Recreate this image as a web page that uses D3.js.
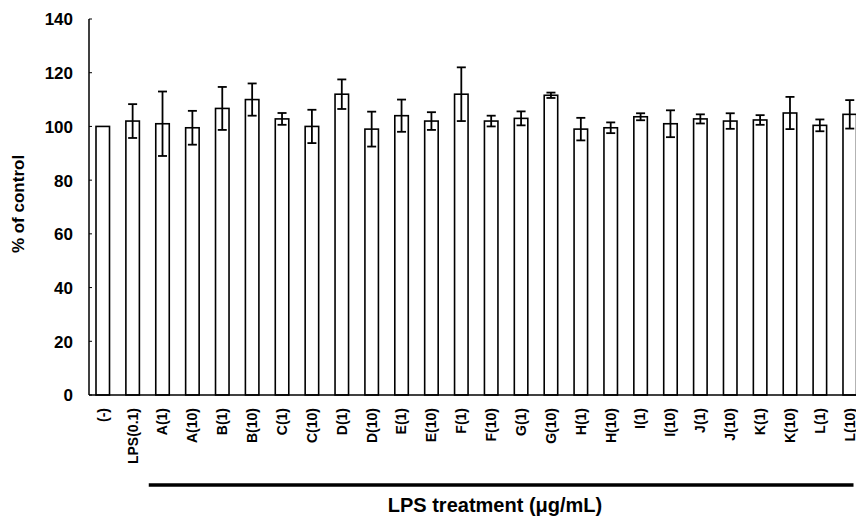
<!DOCTYPE html>
<meta charset="utf-8">
<style>
  body { margin: 0; background: #fff; }
  text { font-family: "Liberation Sans", Arial, sans-serif; font-weight: bold; fill: #000; }
</style>
<svg width="856" height="522"></svg>
<script src="https://d3js.org/d3.v7.min.js"></script>
<script>
var categories = ['(-)', 'LPS(0.1)', 'A(1)', 'A(10)', 'B(1)', 'B(10)', 'C(1)', 'C(10)', 'D(1)', 'D(10)',
  'E(1)', 'E(10)', 'F(1)', 'F(10)', 'G(1)', 'G(10)', 'H(1)', 'H(10)', 'I(1)', 'I(10)',
  'J(1)', 'J(10)', 'K(1)', 'K(10)', 'L(1)', 'L(10)'];
var means = [100, 102, 101, 99.5, 106.7, 110, 102.8, 100, 112, 99,
  104, 102, 112, 102, 103, 111.6, 99, 99.5, 103.6, 101,
  102.8, 102, 102.4, 105, 100.4, 104.5];
var errs = [0, 6.3, 12, 6.3, 8, 6, 2.2, 6.2, 5.5, 6.5,
  6, 3.3, 10, 2, 2.6, 1, 4.2, 2, 1.3, 5,
  1.7, 2.9, 1.8, 6, 2.2, 5.3];
var yTicks = [0, 20, 40, 60, 80, 100, 120, 140];

var svg = d3.select('svg');
var axisX = 89, plotTop = 19, plotBottom = 395;

var x = d3.scaleBand().domain(categories).range([96, 856.5]).paddingInner(0.548).paddingOuter(0);
var y = d3.scaleLinear().domain([0, 140]).range([plotBottom, plotTop]);
var bw = x.bandwidth();

// y axis
var yAxis = d3.axisLeft(y).tickValues(yTicks).tickSize(0).tickPadding(16);
var gy = svg.append('g').attr('transform', 'translate(' + axisX + ',0)').call(yAxis);
gy.select('.domain').remove();
gy.selectAll('text').attr('font-size', 17).attr('font-family', '"Liberation Sans", Arial, sans-serif')
  .attr('font-weight', 'bold').attr('dy', '0.35em');
svg.append('line').attr('x1', axisX).attr('x2', axisX).attr('y1', plotTop).attr('y2', plotBottom)
  .attr('stroke', '#000').attr('stroke-width', 1.5);
svg.selectAll('.ytick').data(yTicks).enter().append('line')
  .attr('x1', axisX).attr('x2', axisX + 3)
  .attr('y1', d => y(d)).attr('y2', d => y(d))
  .attr('stroke', '#000').attr('stroke-width', 1);

// bars
svg.selectAll('.bar').data(categories).enter().append('rect')
  .attr('x', d => x(d)).attr('width', bw)
  .attr('y', (d, i) => y(means[i])).attr('height', (d, i) => plotBottom - y(means[i]))
  .attr('fill', '#fff').attr('stroke', '#000').attr('stroke-width', 1.6);

// error bars
var eb = svg.selectAll('.err').data(categories.filter((d, i) => errs[i] > 0)).enter().append('g');
eb.each(function (d) {
  var i = categories.indexOf(d);
  var cx = x(d) + bw / 2;
  var g = d3.select(this);
  g.append('line').attr('x1', cx).attr('x2', cx)
    .attr('y1', y(means[i] + errs[i])).attr('y2', y(means[i] - errs[i]))
    .attr('stroke', '#000').attr('stroke-width', 1.8);
  [means[i] + errs[i], means[i] - errs[i]].forEach(function (v) {
    g.append('line').attr('x1', cx - 4.5).attr('x2', cx + 4.5)
      .attr('y1', y(v)).attr('y2', y(v))
      .attr('stroke', '#000').attr('stroke-width', 1.8);
  });
});

// baseline
svg.append('line').attr('x1', axisX).attr('x2', 856).attr('y1', plotBottom).attr('y2', plotBottom)
  .attr('stroke', '#000').attr('stroke-width', 1.5);

// category labels
svg.selectAll('.xlab').data(categories).enter().append('text')
  .attr('transform', d => 'translate(' + (x(d) + bw / 2) + ',408) rotate(-90)')
  .attr('text-anchor', 'end').attr('dy', '0.35em')
  .attr('font-size', 14).text(d => d);

// treatment bracket
svg.append('line')
  .attr('x1', x('A(1)') - 7).attr('x2', x('L(10)') + bw - 3)
  .attr('y1', 485).attr('y2', 485)
  .attr('stroke', '#000').attr('stroke-width', 3.5);

// axis titles
svg.append('text').attr('x', 495).attr('y', 512).attr('text-anchor', 'middle')
  .attr('font-size', 20).text('LPS treatment (\u03bcg/mL)');
svg.append('text').attr('transform', 'translate(24,204) rotate(-90)')
  .attr('text-anchor', 'middle').attr('font-size', 17).text('% of control');
</script>
